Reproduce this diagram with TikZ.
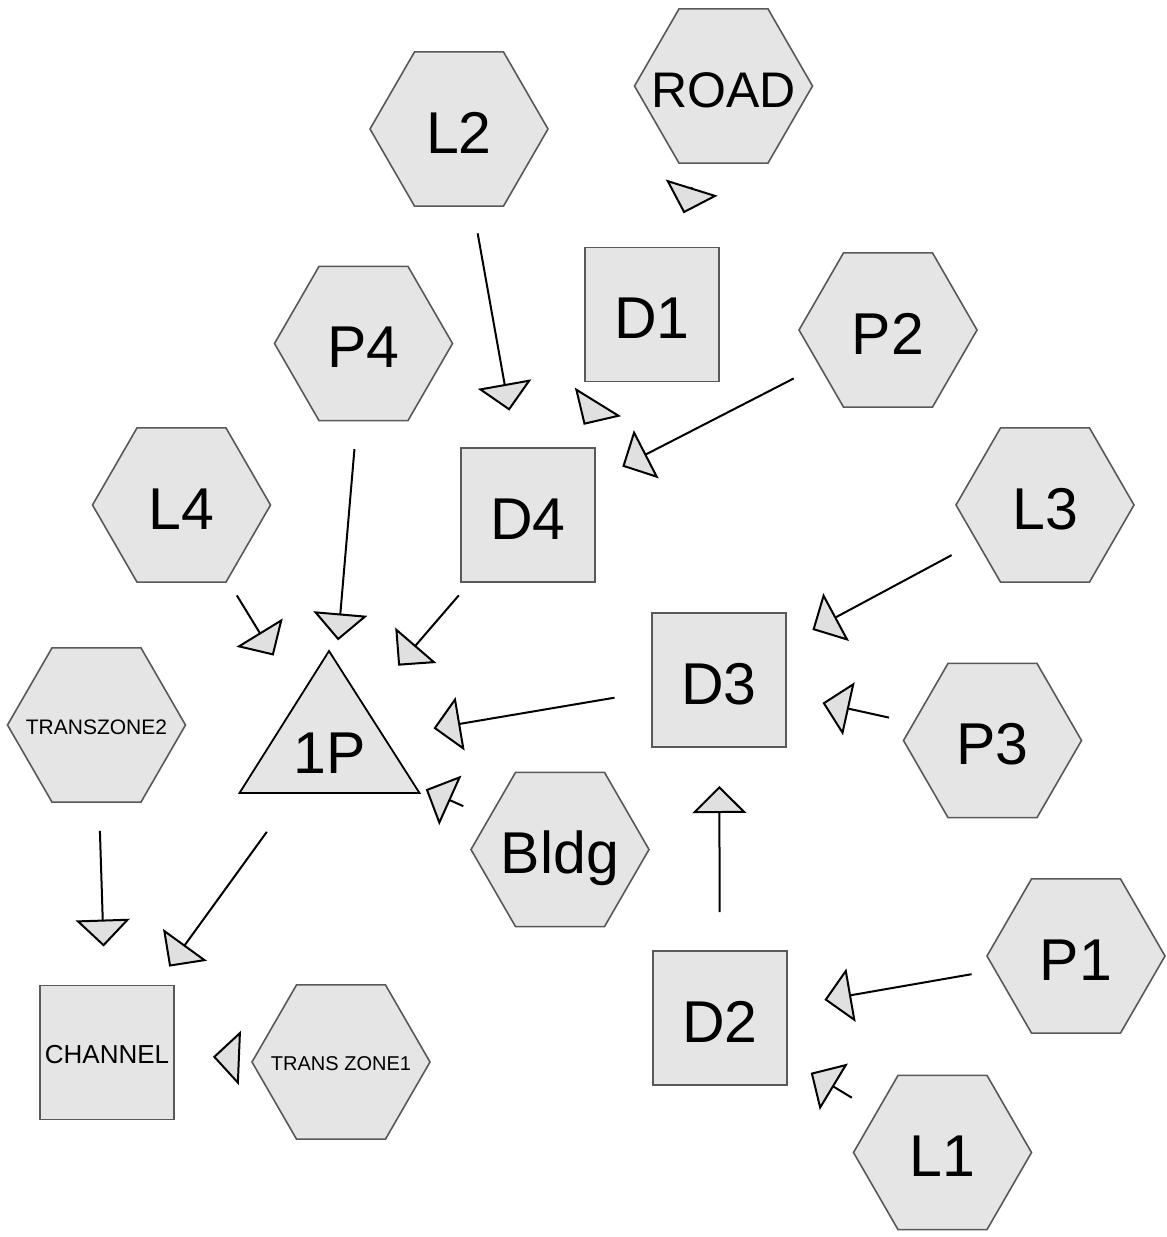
\documentclass[tikz,border=0pt]{standalone}
\usepackage{fontspec}
\setmainfont{Liberation Sans}
\usetikzlibrary{shapes.geometric,arrows.meta}
\definecolor{nodefill}{RGB}{229,229,229}
\definecolor{nodeline}{RGB}{89,89,89}
\definecolor{headfill}{RGB}{224,224,224}
\newcommand{\zw}[1]{\makebox[0pt][c]{#1}}
\begin{document}
\begin{tikzpicture}[x=1pt,y=-1pt,
  hexa/.style={regular polygon, regular polygon sides=6, minimum size=178pt, inner sep=0pt,
    fill=nodefill, draw=nodeline, line width=1.6pt},
  sqbox/.style={rectangle, minimum width=134pt, minimum height=134pt, inner sep=0pt,
    fill=nodefill, draw=nodeline, line width=1.6pt},
  bigtxt/.style={font=\fontsize{59}{59}\selectfont, text height=48pt, text depth=0pt},
  roadtxt/.style={font=\fontsize{50}{50}\selectfont, text height=43pt, text depth=0pt},
  chtxt/.style={font=\fontsize{26}{26}\selectfont, text height=21pt, text depth=0pt},
  tzatxt/.style={font=\fontsize{21}{21}\selectfont, text height=18pt, text depth=0pt},
  tzbtxt/.style={font=\fontsize{20}{20}\selectfont, text height=16pt, text depth=0pt},
  trishape/.style={fill=nodefill, draw=black, line width=1.8pt, line join=miter},
  conn/.style={line width=2pt, shorten <=106pt, shorten >=106pt,
    -{Triangle[length=27pt,width=54pt,fill=headfill]}}
]
\fill[white] (0,0) rectangle (1167,1237);
\useasboundingbox (0,0) rectangle (1167,1237);

% nodes
\node[hexa,roadtxt] (ROAD) at (723.5,86) {\zw{ROAD}};
\node[hexa,bigtxt] (L2) at (459,129) {\zw{L2}};
\node[sqbox,bigtxt] (D1) at (652,314.5) {D1};
\node[hexa,bigtxt] (P2) at (888,330) {\zw{P2}};
\node[hexa,bigtxt] (P4) at (363.5,343.5) {\zw{P4}};
\node[sqbox,bigtxt] (D4) at (528,515) {D4};
\node[hexa,bigtxt] (L4) at (181.5,505) {\zw{L4}};
\node[hexa,bigtxt] (L3) at (1045,505) {\zw{L3}};
\node[sqbox,bigtxt] (D3) at (719,680) {D3};
\node[hexa,bigtxt] (P3) at (992.5,740.5) {\zw{P3}};
\node[hexa,bigtxt] (Bldg) at (560,849.5) {\zw{Bldg}};
\node[hexa,tzatxt] (TZ2) at (96.5,725) {\zw{TRANSZONE2}};
\node[hexa,bigtxt] (P1) at (1076,956) {\zw{P1}};
\node[sqbox,bigtxt] (D2) at (720,1018) {D2};
\node[hexa,bigtxt] (L1) at (942.5,1152.5) {\zw{L1}};
\node[sqbox,chtxt] (CH) at (107,1052.5) {CHANNEL};
\node[hexa,tzbtxt] (TZ1) at (341,1062) {\zw{TRANS ZONE1}};

% triangle 1P
\coordinate (T1P) at (329,746);
\draw[trishape] (329,651) -- (419.5,793) -- (239.5,793) -- cycle;
\node[bigtxt] (L1P) at (330,749.5) {1P};

% connectors
\draw[conn] (ROAD.center) -- (D1.center);
\draw[conn] (D1.center) -- (D4.center);
\draw[conn] (L2.center) -- (D4.center);
\draw[conn] (P2.center) -- (D4.center);
\draw[conn] (P4.center) -- (T1P);
\draw[conn] (L4.center) -- (T1P);
\draw[conn] (D4.center) -- (T1P);
\draw[conn] (D3.center) -- (T1P);
\draw[conn] (Bldg.center) -- (T1P);
\draw[conn] (L3.center) -- (D3.center);
\draw[conn] (P3.center) -- (D3.center);
\draw[conn] (D2.center) -- (D3.center);
\draw[conn] (P1.center) -- (D2.center);
\draw[conn] (L1.center) -- (D2.center);
\draw[conn] (TZ2.center) -- (CH.center);
\draw[conn] (T1P) -- (CH.center);
\draw[conn] (TZ1.center) -- (CH.center);
\end{tikzpicture}
\end{document}
